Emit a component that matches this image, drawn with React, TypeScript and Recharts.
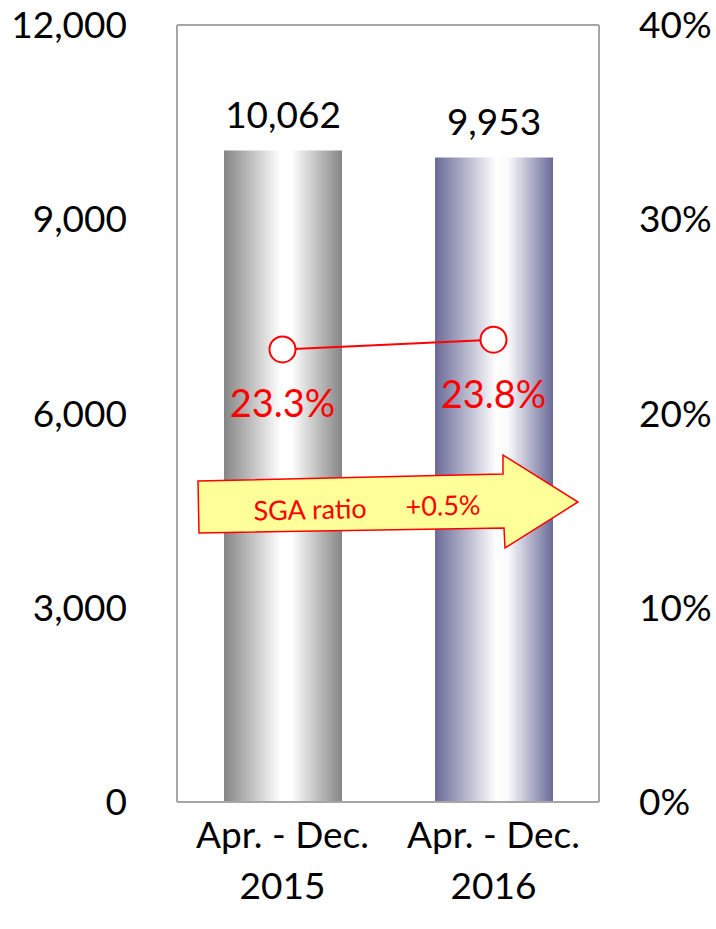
import React from "react";
import {
  ComposedChart,
  Bar,
  Cell,
  Line,
  XAxis,
  YAxis,
  CartesianGrid,
  LabelList,
  ReferenceLine,
} from "recharts";

const categories = ["Apr. - Dec.|2015", "Apr. - Dec.|2016"];
const sgaValues = [10062, 9953];
const sgaRatios = [0.233, 0.238];
const leftTicks = [0, 3000, 6000, 9000, 12000];
const rightTicks = [0, 0.1, 0.2, 0.3, 0.4];
const arrowText = ["SGA ratio", "+0.5%"];

const data = categories.map((c, i) => ({
  name: c,
  sga: sgaValues[i],
  ratio: sgaRatios[i],
}));

const FONT = "Lato, 'Open Sans', sans-serif";
const RED = "#ff0000";
const BORDER = "#a6a6a6";

const XTick = (props: any) => {
  const { x, y, payload } = props;
  const lines = String(payload.value).split("|");
  return (
    <text x={x} y={y} textAnchor="middle" fontSize={37} fontFamily={FONT} fill="#000">
      {lines.map((l, i) => (
        <tspan key={i} x={x} dy={i === 0 ? 44 : 51}>
          {l}
        </tspan>
      ))}
    </text>
  );
};

const BarValue = (props: any) => {
  const { x, y, width, value } = props;
  return (
    <text
      x={x + width / 2}
      y={y - 37}
      textAnchor="middle"
      dominantBaseline="central"
      fontSize={37}
      fontFamily={FONT}
      fill="#000"
    >
      {Number(value).toLocaleString("en-US")}
    </text>
  );
};

const RatioValue = (props: any) => {
  const { x, y, value } = props;
  return (
    <text
      x={x}
      y={y + 53}
      textAnchor="middle"
      dominantBaseline="central"
      fontSize={38}
      fontFamily={FONT}
      fill={RED}
    >
      {(value * 100).toFixed(1)}%
    </text>
  );
};

// yellow annotation arrow drawn over the plot
const Arrow = () => (
  <svg
    width={716}
    height={929}
    style={{ position: "absolute", left: 0, top: 0, pointerEvents: "none" }}
  >
    <polygon
      points="198,481 503,474 503,455 578,502 505,548 504,528 199,533"
      fill="#ffff99"
      stroke={RED}
      strokeWidth={1.5}
    />
    <g transform="rotate(-1.3 390 505)" fontFamily={FONT} fontSize={27} fill={RED}>
      <text x={310} y={507} textAnchor="middle" dominantBaseline="central">
        {arrowText[0]}
      </text>
      <text x={443} y={506} textAnchor="middle" dominantBaseline="central">
        {arrowText[1]}
      </text>
    </g>
  </svg>
);

export default function App() {
  return (
    <div style={{ position: "absolute", left: 0, top: 0, width: 716, height: 929, background: "#fff" }}>
      <ComposedChart
        width={716}
        height={929}
        data={data}
        margin={{ top: 25, right: 0, bottom: 0, left: 0 }}
      >
        <defs>
          <linearGradient id="grayBar" x1="0" y1="0" x2="1" y2="0">
            <stop offset="0%" stopColor="#858585" />
            <stop offset="48%" stopColor="#ffffff" />
            <stop offset="57%" stopColor="#ffffff" />
            <stop offset="100%" stopColor="#858585" />
          </linearGradient>
          <linearGradient id="blueBar" x1="0" y1="0" x2="1" y2="0">
            <stop offset="0%" stopColor="#6a6a98" />
            <stop offset="52%" stopColor="#ffffff" />
            <stop offset="62%" stopColor="#fafafc" />
            <stop offset="100%" stopColor="#6a6a98" />
          </linearGradient>
        </defs>
        <CartesianGrid vertical={false} horizontal stroke="#bdbdbd" strokeWidth={1} />
        <XAxis
          dataKey="name"
          height={127}
          axisLine={{ stroke: BORDER, strokeWidth: 2 }}
          tickLine={false}
          tick={<XTick />}
          tickSize={0}
          interval={0}
        />
        <YAxis
          yAxisId="left"
          domain={[0, 12000]}
          ticks={leftTicks}
          width={177}
          axisLine={{ stroke: BORDER, strokeWidth: 2 }}
          tickLine={false}
          tickSize={0}
          tickMargin={50}
          tickFormatter={(v: number) => v.toLocaleString("en-US")}
          tick={{ fontSize: 37, fontFamily: FONT, fill: "#000" }}
        />
        <YAxis
          yAxisId="right"
          orientation="right"
          domain={[0, 0.4]}
          ticks={rightTicks}
          width={117}
          axisLine={{ stroke: BORDER, strokeWidth: 2 }}
          tickLine={false}
          tickSize={0}
          tickMargin={40}
          tickFormatter={(v: number) => `${Math.round(v * 100)}%`}
          tick={{ fontSize: 37, fontFamily: FONT, fill: "#000" }}
        />
        <ReferenceLine yAxisId="left" y={12000} stroke={BORDER} strokeWidth={2} />
        <Bar yAxisId="left" dataKey="sga" barSize={118} isAnimationActive={false}>
          {data.map((_, i) => (
            <Cell key={i} fill={i === 0 ? "url(#grayBar)" : "url(#blueBar)"} />
          ))}
          <LabelList dataKey="sga" content={<BarValue />} />
        </Bar>
        <Line
          yAxisId="right"
          dataKey="ratio"
          stroke={RED}
          strokeWidth={2}
          dot={{ r: 13, fill: "#fff", stroke: RED, strokeWidth: 2 }}
          isAnimationActive={false}
        >
          <LabelList dataKey="ratio" content={<RatioValue />} />
        </Line>
      </ComposedChart>
      <Arrow />
    </div>
  );
}
